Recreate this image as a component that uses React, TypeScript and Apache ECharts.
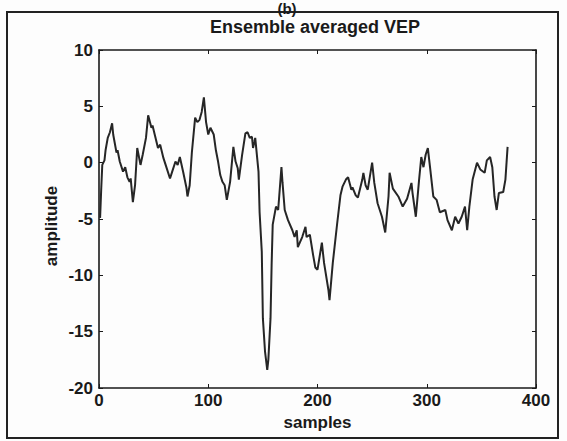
import React, { useEffect, useRef } from "react";
import * as echarts from "echarts";

const titleText = "Ensemble averaged VEP";
const panelLabel = "(b)";
const xName = "samples";
const yName = "amplitude";
const xTicks = [0, 100, 200, 300, 400];
const yTicks = [-20, -15, -10, -5, 0, 5, 10];

const samples = [
  1, 2, 3, 5, 6, 8, 10, 12, 13, 16, 17, 19, 22, 24, 26, 28, 29, 31, 33, 35,
  38, 40, 43, 45, 48, 49, 51, 54, 56, 59, 61, 65, 67, 70, 72, 74, 77, 80, 81, 83,
  85, 88, 90, 92, 94, 96, 98, 100, 102, 103, 105, 107, 109, 111, 113, 115, 117, 120, 123, 125,
  127, 128, 131, 134, 136, 138, 140, 141, 143, 146, 147, 149, 150, 152, 154, 155, 157, 158, 159, 162,
  164, 167, 168, 170, 173, 177, 179, 181, 182, 186, 189, 190, 193, 196, 198, 200, 204, 206, 210, 211,
  214, 218, 221, 223, 226, 228, 231, 232, 235, 237, 241, 242, 244, 246, 250, 252, 255, 259, 262, 265,
  266, 269, 274, 278, 282, 286, 287, 290, 293, 295, 297, 299, 301, 303, 306, 309, 312, 317, 319, 323,
  326, 329, 332, 335, 337, 339, 342, 346, 349, 353, 355, 358, 360, 362, 364, 366, 370, 372, 374,
];

const amplitude = [
  -4.9, -2.4, -0.2, 0.2, 1.1, 2.2, 2.7, 3.5, 2.5, 0.9, 1.1, 0.1, -0.8, -0.4, -1.3, -1.7, -1.4, -3.5, -2.0, 1.3,
  -0.2, 0.7, 2.2, 4.2, 3.1, 3.3, 2.5, 1.3, 1.6, 0.4, -0.2, -1.4, -0.8, 0.1, -0.2, 0.5, -0.8, -2.2, -3.0, -2.0,
  0.9, 4.0, 3.6, 3.8, 4.5, 5.8, 3.6, 2.5, 3.1, 2.9, 2.5, 1.1, 0.1, -1.1, -1.7, -2.0, -3.3, -1.7, 1.4, 0.1,
  -0.5, -1.5, 0.7, 2.6, 2.7, 2.2, 2.3, 1.3, 2.2, -0.8, -4.4, -7.9, -13.8, -16.8, -18.4, -17.5, -13.8, -9.1, -5.5, -3.9,
  -4.2, -0.4, -1.8, -4.2, -5.1, -6.0, -6.6, -6.0, -7.5, -6.6, -5.7, -6.6, -6.4, -8.2, -9.3, -9.5, -7.1, -8.9, -11.3, -12.2,
  -8.9, -5.4, -2.9, -2.1, -1.5, -1.3, -2.4, -2.2, -2.9, -3.1, -1.5, -0.9, -2.0, -2.4, 0.0, -1.8, -3.6, -4.8, -6.2, -3.0,
  -0.9, -2.3, -3.0, -3.9, -3.2, -1.8, -2.7, -4.8, -1.5, 0.5, -0.4, 0.7, 1.3, -0.4, -3.0, -3.3, -4.4, -4.2, -5.1, -6.0,
  -4.8, -5.4, -4.8, -3.9, -6.0, -3.9, -1.5, 0.0, -0.6, -0.9, 0.2, 0.5, -0.4, -3.0, -4.2, -2.7, -2.6, -1.5, 1.4,
];

const FONT = "Liberation Sans";
const INK = "#1a1a1a";

export default function App() {
  const ref = useRef<HTMLDivElement>(null);
  useEffect(() => {
    if (!ref.current) return;
    const chart = echarts.init(ref.current, undefined, { renderer: "svg" });
    const points = samples.map((s, i) => [s, amplitude[i]]);
    const axisCommon = {
      axisLine: { show: true, onZero: false, lineStyle: { color: INK, width: 1.6 } },
      axisTick: { show: true, inside: true, length: 4, lineStyle: { color: INK, width: 1 } },
      splitLine: { show: false },
    };
    const labelStyle = { fontFamily: FONT, fontWeight: "bold", fontSize: 17, color: INK };
    chart.setOption({
      animation: false,
      backgroundColor: "#fdfdfd",
      grid: { left: 99, right: 31, top: 50, bottom: 53, containLabel: false },
      xAxis: [
        {
          type: "value",
          min: xTicks[0],
          max: xTicks[xTicks.length - 1],
          interval: 100,
          position: "bottom",
          name: xName,
          nameLocation: "middle",
          nameGap: 25,
          nameTextStyle: labelStyle,
          axisLabel: { ...labelStyle, margin: 4 },
          ...axisCommon,
        },
        {
          type: "value",
          min: xTicks[0],
          max: xTicks[xTicks.length - 1],
          interval: 100,
          position: "top",
          axisLabel: { show: false },
          ...axisCommon,
        },
      ],
      yAxis: [
        {
          type: "value",
          min: yTicks[0],
          max: yTicks[yTicks.length - 1],
          interval: 5,
          position: "left",
          axisLabel: { ...labelStyle, margin: 6 },
          ...axisCommon,
        },
        {
          type: "value",
          min: yTicks[0],
          max: yTicks[yTicks.length - 1],
          interval: 5,
          position: "right",
          axisLabel: { show: false },
          ...axisCommon,
        },
      ],
      graphic: [
        {
          type: "rect",
          shape: { x: 7, y: 12, width: 551, height: 426 },
          style: { fill: "none", stroke: "#222", lineWidth: 2 },
          silent: true,
        },
        {
          type: "text",
          x: 287,
          y: 8,
          style: {
            text: panelLabel,
            font: `bold 15px ${FONT}`,
            fill: INK,
            textAlign: "center",
            textVerticalAlign: "middle",
          },
        },
        {
          type: "text",
          x: 315,
          y: 27,
          style: {
            text: titleText,
            font: `bold 18px ${FONT}`,
            fill: INK,
            textAlign: "center",
            textVerticalAlign: "middle",
          },
        },
        {
          type: "text",
          x: 51,
          y: 226,
          rotation: Math.PI / 2,
          style: {
            text: yName,
            font: `bold 17px ${FONT}`,
            fill: INK,
            textAlign: "center",
            textVerticalAlign: "middle",
          },
        },
      ],
      series: [
        {
          type: "line",
          data: points,
          showSymbol: false,
          symbol: "none",
          lineStyle: { color: "#262626", width: 2 },
        },
      ],
    });
    return () => chart.dispose();
  }, []);
  return <div ref={ref} style={{ width: 567, height: 441, position: "absolute", left: 0, top: 0 }} />;
}
